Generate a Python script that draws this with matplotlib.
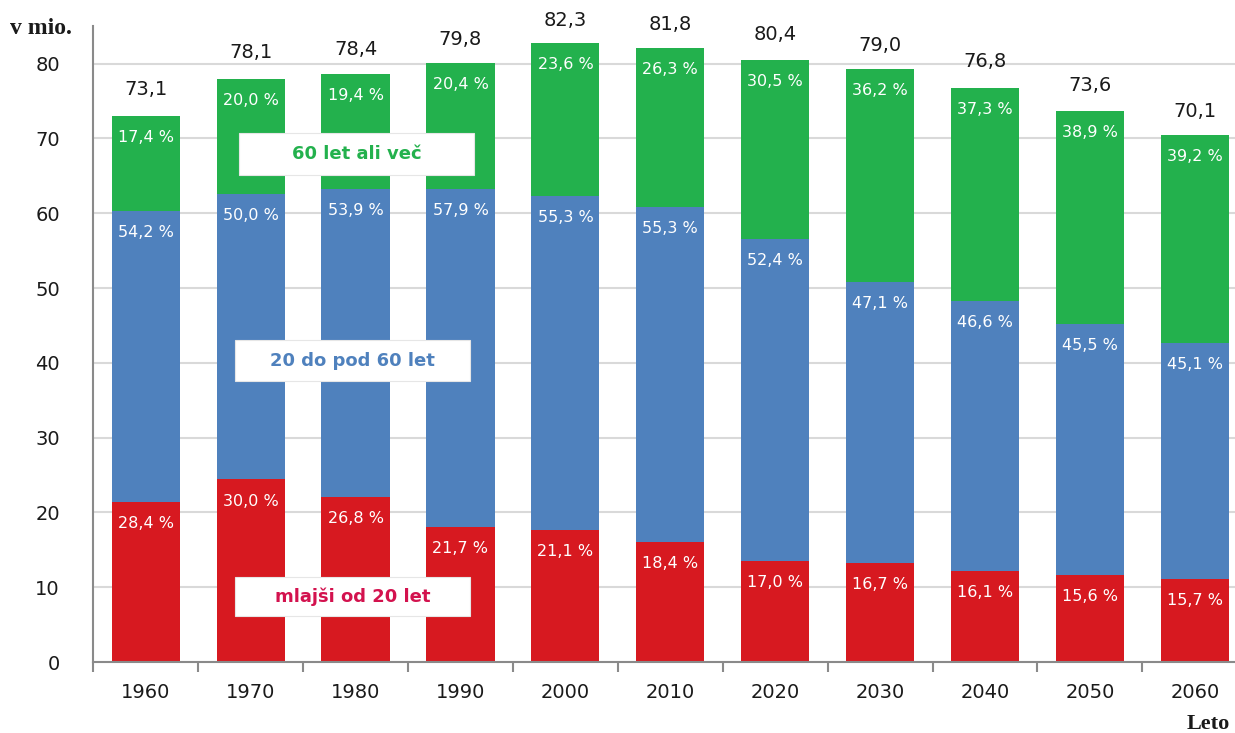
import matplotlib
matplotlib.use("Agg")
import matplotlib.pyplot as plt
from matplotlib.patches import Rectangle
import numpy as np

# ---- data ----
years = ["1960", "1970", "1980", "1990", "2000", "2010", "2020", "2030", "2040", "2050", "2060"]
totals = [73.1, 78.1, 78.4, 79.8, 82.3, 81.8, 80.4, 79.0, 76.8, 73.6, 70.1]
young = [21.4, 24.4, 22.1, 18.0, 17.7, 16.0, 13.5, 13.2, 12.2, 11.6, 11.1]      # mlajši od 20 let
middle = [38.9, 38.2, 41.2, 45.3, 44.6, 44.8, 43.0, 37.6, 36.1, 33.6, 31.6]     # 20 do pod 60 let
old = [12.7, 15.4, 15.3, 16.8, 20.5, 21.3, 24.0, 28.5, 28.5, 28.5, 27.7]        # 60 let ali več
pct_young = [28.4, 30.0, 26.8, 21.7, 21.1, 18.4, 17.0, 16.7, 16.1, 15.6, 15.7]
pct_middle = [54.2, 50.0, 53.9, 57.9, 55.3, 55.3, 52.4, 47.1, 46.6, 45.5, 45.1]
pct_old = [17.4, 20.0, 19.4, 20.4, 23.6, 26.3, 30.5, 36.2, 37.3, 38.9, 39.2]
y_ticks = [0, 10, 20, 30, 40, 50, 60, 70, 80]

RED = "#D71920"
BLUE = "#4F81BD"
GREEN = "#23B14D"

W, H = 1235, 733
fig = plt.figure(figsize=(W / 100, H / 100), dpi=100)
ax = fig.add_axes([93.3 / W, (H - 662) / H, 1154 / W, (662 - 26.2) / H])

x = np.arange(len(years))
bw = 0.65
b1 = ax.bar(x, young, bw, color=RED, zorder=2)
b2 = ax.bar(x, middle, bw, bottom=young, color=BLUE, zorder=2)
bottom3 = np.array(young) + np.array(middle)
b3 = ax.bar(x, old, bw, bottom=bottom3, color=GREEN, zorder=2)

ax.set_xlim(-0.5, len(years) - 0.5)
ax.set_ylim(0, 85)
ax.set_yticks(y_ticks)
ax.set_yticklabels([str(v) for v in y_ticks], fontsize=14, color="#1a1a1a")
ax.set_xticks(x)
ax.set_xticklabels(years, fontsize=14, color="#1a1a1a")
ax.set_xticks(np.arange(-0.5, len(years), 1.0), minor=True)
ax.tick_params(axis="x", which="major", length=0, pad=15)
ax.tick_params(axis="x", which="minor", length=7, width=1.5, color="#8a8a8a", direction="out")
ax.tick_params(axis="y", length=0, pad=24)

ax.grid(axis="y", color="#D9D9D9", linewidth=1.5, zorder=0)
ax.set_axisbelow(True)
for s in ["top", "right"]:
    ax.spines[s].set_visible(False)
for s in ["left", "bottom"]:
    ax.spines[s].set_color("#8a8a8a")
    ax.spines[s].set_linewidth(1.5)

def fmt(v):
    return f"{v:.1f}".replace(".", ",")

# segment percentage labels
for bars, pcts in [(b1, pct_young), (b2, pct_middle), (b3, pct_old)]:
    for rect, p in zip(bars, pcts):
        top = rect.get_y() + rect.get_height()
        ax.annotate(fmt(p) + " %", (rect.get_x() + rect.get_width() / 2, top),
                    xytext=(0, -15.5), textcoords="offset points",
                    ha="center", va="center", color="white", fontsize=11.5, zorder=5)

# totals above bars
for xi, t in zip(x, totals):
    ax.annotate(fmt(t), (xi, t), xytext=(0, 18.5), textcoords="offset points",
                ha="center", va="center", color="#1a1a1a", fontsize=14, zorder=5)

# white legend boxes inside the chart
def box_label(xc, y0, y1, text, color):
    ax.add_patch(Rectangle((xc - 1.12, y0), 2.24, y1 - y0, facecolor="white",
                           edgecolor="#e6e6e6", linewidth=0.8, zorder=4))
    ax.text(xc, (y0 + y1) / 2, text, ha="center", va="center", color=color,
            fontsize=13, fontweight="bold", zorder=6)

box_label(2.01, 65.1, 70.7, "60 let ali več", GREEN)
box_label(1.97, 37.6, 43.0, "20 do pod 60 let", BLUE)
box_label(1.97, 6.15, 11.4, "mlajši od 20 let", "#D3124E")

fig.text(10 / W, 1 - 29 / H, "v mio.", fontsize=17, fontweight="bold",
         family="Liberation Serif", ha="left", va="center", color="#1a1a1a")
fig.text(1187 / W, 4 / H, "Leto", fontsize=16, fontweight="bold",
         family="Liberation Serif", ha="left", va="baseline", color="#1a1a1a")

fig.savefig("out.png", dpi=100)
